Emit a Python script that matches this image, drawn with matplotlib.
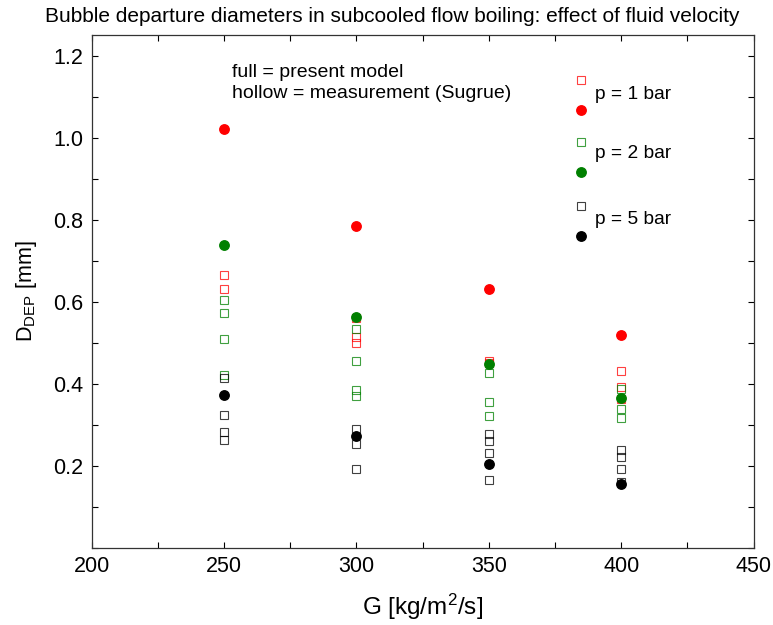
import matplotlib
matplotlib.use("Agg")
import matplotlib.pyplot as plt
from matplotlib.ticker import MultipleLocator

plt.rcParams['font.family'] = ['Liberation Sans', 'DejaVu Sans']
plt.rcParams['mathtext.default'] = 'regular'

# Data: G [kg/m2/s] and D_DEP [mm]
# Model (full markers)
model_G = [250, 300, 350, 400]
model_p1 = [1.02, 0.785, 0.630, 0.518]
model_p2 = [0.738, 0.562, 0.447, 0.366]
model_p5 = [0.373, 0.272, 0.204, 0.155]

# Measurements (hollow markers)
meas_p1_G = [250, 250, 300, 300, 300, 350, 350, 400, 400, 400]
meas_p1_D = [0.666, 0.631, 0.559, 0.513, 0.499, 0.455, 0.450, 0.432, 0.392, 0.362]

meas_p2_G = [250, 250, 250, 250, 300, 300, 300, 300, 350, 350, 350, 400, 400, 400]
meas_p2_D = [0.604, 0.572, 0.509, 0.422, 0.534, 0.454, 0.385, 0.369, 0.426, 0.355, 0.321, 0.386, 0.337, 0.317]

meas_p5_G = [250, 250, 250, 250, 300, 300, 300, 350, 350, 350, 350, 400, 400, 400, 400]
meas_p5_D = [0.413, 0.324, 0.282, 0.262, 0.290, 0.254, 0.191, 0.278, 0.260, 0.230, 0.165, 0.238, 0.221, 0.193, 0.160]

colors = ['#ff0000', '#008000', '#000000']
legend_labels = ['p = 1 bar', 'p = 2 bar', 'p = 5 bar']
legend_sq_y = [1.14, 0.99, 0.832]
legend_dot_y = [1.067, 0.917, 0.759]
legend_txt_y = [1.105, 0.96, 0.80]
legend_x = 384.7

fig = plt.figure(figsize=(7.73, 6.25), dpi=100)
ax = fig.add_axes([0.1186, 0.1237, 0.8564, 0.8203])

meas = [(meas_p1_G, meas_p1_D), (meas_p2_G, meas_p2_D), (meas_p5_G, meas_p5_D)]
models = [model_p1, model_p2, model_p5]
for c, (mg, md) in zip(colors, meas):
    ax.plot(mg, md, linestyle='none', marker='s', markersize=5.8,
            markerfacecolor='none', markeredgecolor=c, markeredgewidth=0.8, alpha=0.75)
for c, mm in zip(colors, models):
    ax.plot(model_G, mm, linestyle='none', marker='o', markersize=6.8,
            markerfacecolor=c, markeredgecolor=c)

# legend-like annotations
for c, lab, sy, dy, ty in zip(colors, legend_labels, legend_sq_y, legend_dot_y, legend_txt_y):
    ax.plot([legend_x], [sy], linestyle='none', marker='s', markersize=5.8,
            markerfacecolor='none', markeredgecolor=c, markeredgewidth=0.8, alpha=0.75)
    ax.plot([legend_x], [dy], linestyle='none', marker='o', markersize=6.8,
            markerfacecolor=c, markeredgecolor=c)
    ax.text(legend_x + 5.3, ty, lab, fontsize=13.8, va='center', ha='left')

ax.text(253.1, 1.158, 'full = present model', fontsize=14, va='center', ha='left')
ax.text(253.1, 1.107, 'hollow = measurement (Sugrue)', fontsize=14, va='center', ha='left')

ax.set_xlim(200, 450)
ax.set_ylim(0, 1.25)
ax.xaxis.set_major_locator(MultipleLocator(50))
ax.xaxis.set_minor_locator(MultipleLocator(25))
ax.set_yticks([0.2, 0.4, 0.6, 0.8, 1.0, 1.2])
ax.set_yticklabels(['0.2', '0.4', '0.6', '0.8', '1.0', '1.2'])
ax.yaxis.set_minor_locator(MultipleLocator(0.1))
ax.tick_params(which='both', direction='in', top=True, right=True, length=4, width=0.8,
               labelsize=15.5, pad=6)
for s in ax.spines.values():
    s.set_linewidth(0.9)
    s.set_color('#333333')

ax.set_xlabel('G [kg/m$^{2}$/s]', fontsize=17.5, labelpad=11)
ax.set_ylabel('D$_{DEP}$ [mm]', fontsize=15.5, labelpad=10)
fig.text(0.508, 0.974, 'Bubble departure diameters in subcooled flow boiling: effect of fluid velocity',
         ha='center', va='center', fontsize=15)

fig.savefig('out.png', dpi=100)
